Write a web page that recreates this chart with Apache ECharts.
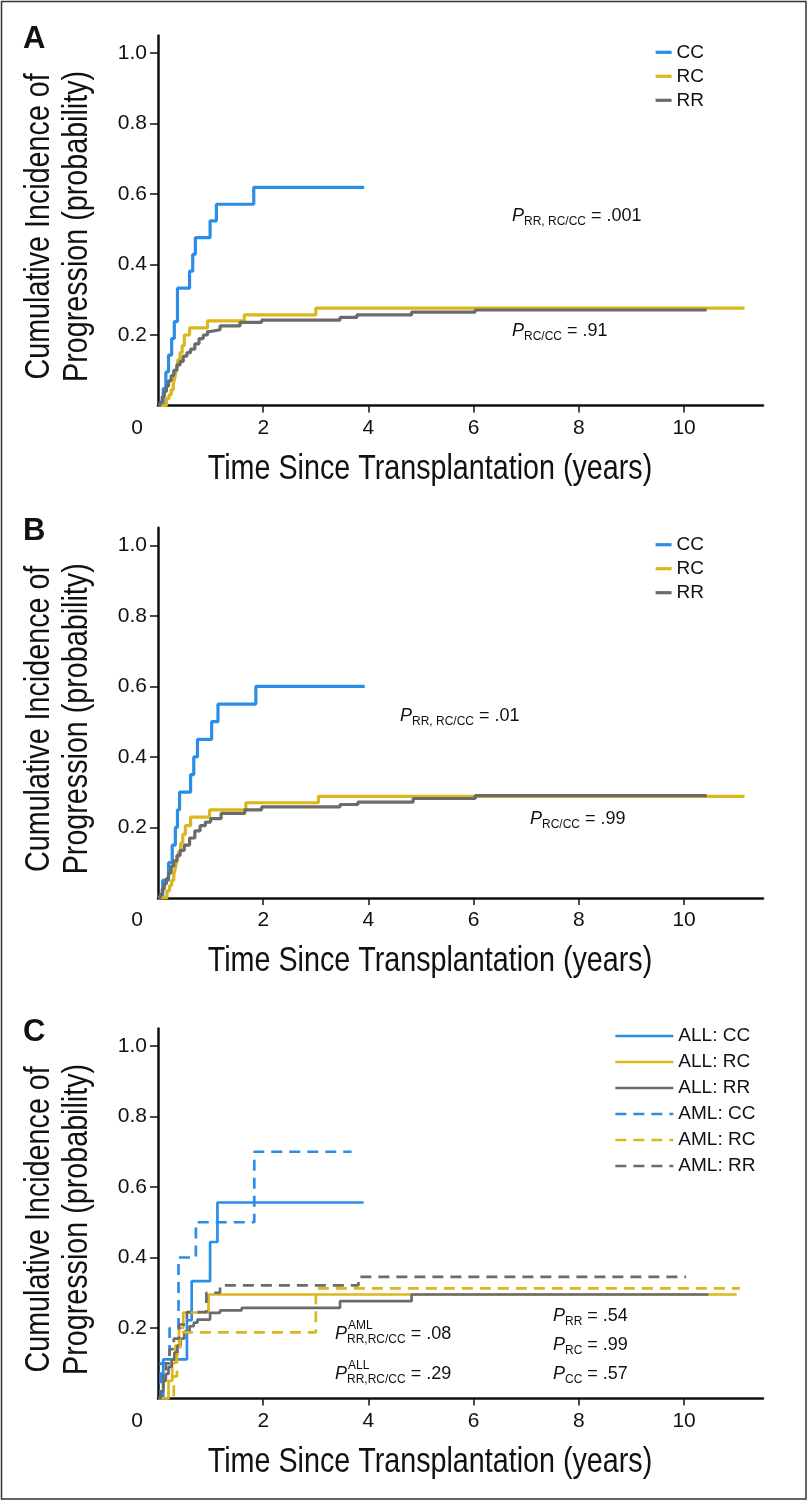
<!DOCTYPE html>
<html>
<head>
<meta charset="utf-8">
<title>Cumulative Incidence of Progression</title>
<script src="https://cdn.jsdelivr.net/npm/echarts@6/dist/echarts.min.js"></script>
<style>
html, body { margin: 0; padding: 0; background: #fff; }
#chart { width: 809px; height: 1501px; }
</style>
</head>
<body>
<div id="chart"></div>
<script>
// panel A  (time in years, cumulative incidence)
var aCCt = [0, 0.10, 0.15, 0.20, 0.26, 0.31, 0.37, 0.60, 0.66, 0.71, 0.99, 1.11, 1.82, 3.92];
var aCCp = [0, 0.048, 0.095, 0.143, 0.190, 0.238, 0.333, 0.381, 0.429, 0.476, 0.524, 0.571, 0.619, 0.619];
var aRCt = [0, 0.16, 0.21, 0.25, 0.29, 0.32, 0.35, 0.38, 0.42, 0.46, 0.50, 0.60, 0.94, 1.64, 3.00, 11.15];
var aRCp = [0, 0.02, 0.03, 0.045, 0.06, 0.08, 0.10, 0.13, 0.15, 0.17, 0.20, 0.22, 0.24, 0.257, 0.276, 0.276];
var aRRt = [0, 0.04, 0.08, 0.12, 0.16, 0.20, 0.25, 0.30, 0.36, 0.42, 0.48, 0.55, 0.62, 0.70, 0.78, 0.86, 0.94, 1.00, 1.18, 1.56, 1.97, 3.46, 3.78, 4.82, 6.03, 10.43];
var aRRp = [0, 0.01, 0.025, 0.04, 0.055, 0.07, 0.085, 0.10, 0.115, 0.125, 0.14, 0.15, 0.16, 0.175, 0.19, 0.20, 0.21, 0.215, 0.226, 0.236, 0.242, 0.25, 0.257, 0.265, 0.271, 0.271];

// panel B
var bCCt = [0, 0.09, 0.20, 0.27, 0.33, 0.37, 0.41, 0.62, 0.68, 0.75, 1.02, 1.14, 1.86, 3.93];
var bCCp = [0, 0.05, 0.10, 0.15, 0.20, 0.25, 0.30, 0.35, 0.40, 0.45, 0.50, 0.55, 0.60, 0.60];
var bRCt = [0, 0.17, 0.22, 0.26, 0.30, 0.33, 0.36, 0.39, 0.43, 0.47, 0.52, 0.62, 0.98, 1.67, 3.05, 11.15];
var bRCp = [0, 0.02, 0.035, 0.05, 0.065, 0.085, 0.105, 0.13, 0.155, 0.18, 0.205, 0.229, 0.25, 0.27, 0.288, 0.288];
var bRRt = [0, 0.04, 0.08, 0.12, 0.16, 0.20, 0.25, 0.30, 0.36, 0.42, 0.50, 0.60, 0.70, 0.80, 0.90, 1.00, 1.20, 1.65, 1.97, 3.46, 3.80, 4.85, 6.03, 10.43];
var bRRp = [0, 0.01, 0.025, 0.04, 0.055, 0.07, 0.09, 0.105, 0.12, 0.135, 0.15, 0.17, 0.19, 0.205, 0.215, 0.225, 0.24, 0.25, 0.258, 0.265, 0.272, 0.282, 0.29, 0.29];

// panel C
var cAllCCt = [0, 0.10, 0.55, 0.64, 0.99, 1.13, 3.91];
var cAllCCp = [0, 0.111, 0.222, 0.333, 0.444, 0.556, 0.556];
var cAllRCt = [0, 0.20, 0.27, 0.33, 0.40, 0.48, 0.96, 11.0];
var cAllRCp = [0, 0.05, 0.10, 0.15, 0.20, 0.244, 0.295, 0.295];
var cAllRRt = [0, 0.05, 0.10, 0.15, 0.20, 0.26, 0.31, 0.37, 0.43, 0.50, 0.60, 0.68, 0.75, 0.99, 1.18, 1.59, 3.46, 4.82, 10.46];
var cAllRRp = [0, 0.02, 0.05, 0.07, 0.09, 0.11, 0.13, 0.15, 0.17, 0.19, 0.205, 0.215, 0.224, 0.243, 0.25, 0.257, 0.276, 0.295, 0.295];
var cAmlCCt = [0, 0.05, 0.22, 0.39, 0.72, 1.83, 3.68];
var cAmlCCp = [0, 0.10, 0.20, 0.40, 0.50, 0.70, 0.70];
var cAmlRCt = [0, 0.30, 0.36, 0.42, 3.00, 11.06];
var cAmlRCp = [0, 0.0625, 0.125, 0.1875, 0.3125, 0.3125];
var cAmlRRt = [0, 0.05, 0.10, 0.15, 0.22, 0.30, 0.40, 0.55, 0.92, 1.18, 3.81, 10.04];
var cAmlRRp = [0, 0.03, 0.07, 0.10, 0.14, 0.17, 0.21, 0.245, 0.30, 0.321, 0.345, 0.345];

var xLabels = [0, 2, 4, 6, 8, 10];
var xTicks = [2, 4, 6, 8, 10];
var yTicks = [0.2, 0.4, 0.6, 0.8, 1.0];
var namesAB = ['CC', 'RC', 'RR'];
var namesC = ['ALL: CC', 'ALL: RC', 'ALL: RR', 'AML: CC', 'AML: RC', 'AML: RR'];
var xTitle = 'Time Since Transplantation (years)';
var yTitle = ['Cumulative Incidence of', 'Progression (probability)'];

var BLUE = '#2a8ee8', YELLOW = '#dcb71c', GREY = '#6b6b6b';
var SANS = '"Liberation Sans", Arial, Helvetica, sans-serif';
var panelTop = [35.4, 527.8, 1028.4];

function stepSeries(name, idx, t, p, color, dashed, width) {
    var data = [];
    t.forEach(function (x, i) { data.push([x, p[i]]); });
    return {
        name: name,
        type: 'line',
        xAxisIndex: idx,
        yAxisIndex: idx,
        step: 'end',
        symbol: 'none',
        silent: true,
        data: data,
        itemStyle: { color: color },
        lineStyle: { color: color, width: width, type: dashed ? [11, 7] : 'solid', cap: 'butt' }
    };
}

function makeX(idx) {
    return {
        type: 'value', gridIndex: idx, min: 0, max: 11.5,
        splitLine: { show: false },
        axisLine: { onZero: false, lineStyle: { color: '#111', width: 2.5 } },
        axisTick: { customValues: xTicks, length: 7, lineStyle: { color: '#111', width: 1.5 } },
        axisLabel: {
            customValues: xLabels, margin: 12, fontSize: 21, fontFamily: SANS, color: '#111',
            formatter: function (v) { return v === 0 ? '{o|0}' : String(v); },
            rich: { o: { padding: [0, 42, 0, 0], fontSize: 21, fontFamily: SANS, color: '#111' } }
        }
    };
}

function makeY(idx) {
    return {
        type: 'value', gridIndex: idx, min: 0, max: 1.05,
        splitLine: { show: false },
        axisLine: { onZero: false, lineStyle: { color: '#111', width: 2.5 } },
        axisTick: { customValues: yTicks, length: 8, lineStyle: { color: '#111', width: 1.5 } },
        axisLabel: {
            customValues: yTicks, margin: 11, fontSize: 21, fontFamily: SANS, color: '#111',
            formatter: function (v) { return v.toFixed(1); }
        }
    };
}

function makeLegend(names, left, top, width, gap, lw) {
    return {
        data: names, orient: 'vertical', left: left, top: top,
        itemWidth: width, itemHeight: 14, itemGap: gap,
        selectedMode: false, padding: 0,
        itemStyle: { color: 'rgba(0,0,0,0)', borderColor: 'rgba(0,0,0,0)', borderWidth: 0, opacity: 0 },
        lineStyle: { width: lw },
        textStyle: { fontSize: 19, lineHeight: 19, fontFamily: SANS, color: '#111' }
    };
}

// condensed axis titles (no narrow font installed, so squeeze horizontally)
function titleText(text, x, y, rot) {
    return {
        type: 'text', x: x, y: y, rotation: rot, scaleX: 0.82, silent: true,
        style: { text: text, fontSize: 35, fontFamily: SANS, fill: '#111', align: 'center', verticalAlign: 'middle' }
    };
}

// P value text: italic P, small subscript, optional superscript
function pLabel(x, y, sub, rest, sup, subDrop) {
    var els = [{
        type: 'text', x: x, y: y, silent: true,
        style: {
            text: '{p|P}{s|' + sub + '}{n| = ' + rest + '}',
            verticalAlign: 'middle',
            rich: {
                p: { fontSize: 18, fontStyle: 'italic', fontFamily: SANS, fill: '#111', lineHeight: 24 },
                s: { fontSize: 12, fontFamily: SANS, fill: '#111', lineHeight: 24 - 2 * (12 - subDrop), verticalAlign: 'bottom' },
                n: { fontSize: 18, fontFamily: SANS, fill: '#111', lineHeight: 24 }
            }
        }
    }];
    if (sup) {
        els.push({
            type: 'text', x: x + 13, y: y - 8, silent: true,
            style: { text: sup, fontSize: 12, fontFamily: SANS, fill: '#111', verticalAlign: 'middle' }
        });
    }
    return els;
}

var chart = echarts.init(document.getElementById('chart'));

var series = [
    stepSeries('CC', 0, aCCt, aCCp, BLUE, false, 3.2),
    stepSeries('RC', 0, aRCt, aRCp, YELLOW, false, 3.2),
    stepSeries('RR', 0, aRRt, aRRp, GREY, false, 3.2),
    stepSeries('CC', 1, bCCt, bCCp, BLUE, false, 3.2),
    stepSeries('RC', 1, bRCt, bRCp, YELLOW, false, 3.2),
    stepSeries('RR', 1, bRRt, bRRp, GREY, false, 3.2),
    stepSeries('ALL: CC', 2, cAllCCt, cAllCCp, BLUE, false, 2.7),
    stepSeries('ALL: RC', 2, cAllRCt, cAllRCp, YELLOW, false, 2.7),
    stepSeries('ALL: RR', 2, cAllRRt, cAllRRp, GREY, false, 2.7),
    stepSeries('AML: CC', 2, cAmlCCt, cAmlCCp, BLUE, true, 2.7),
    stepSeries('AML: RC', 2, cAmlRCt, cAmlRCp, YELLOW, true, 2.7),
    stepSeries('AML: RR', 2, cAmlRRt, cAmlRRp, GREY, true, 2.7)
];

var graphics = [
    { type: 'rect', silent: true, shape: { x: 1.5, y: 1.5, width: 804.5, height: 1497.5 },
      style: { fill: 'none', stroke: '#333', lineWidth: 1.5 } }
];
['A', 'B', 'C'].forEach(function (letter, i) {
    var top = panelTop[i];
    graphics.push({
        type: 'text', x: 23, y: top + 4, silent: true,
        style: { text: letter, fontSize: 31, fontWeight: 'bold', fontFamily: SANS, fill: '#111', verticalAlign: 'middle' }
    });
    graphics.push(titleText(xTitle, 430, top + 434, 0));
    graphics.push(titleText(yTitle[0], 39, top + 191, Math.PI / 2));
    graphics.push(titleText(yTitle[1], 77, top + 191, Math.PI / 2));
});
graphics = graphics
    .concat(pLabel(512, 216, 'RR, RC/CC', '.001', null, 5))
    .concat(pLabel(512, 331, 'RC/CC', '.91', null, 5))
    .concat(pLabel(400, 716, 'RR, RC/CC', '.01', null, 5))
    .concat(pLabel(530, 819, 'RC/CC', '.99', null, 5))
    .concat(pLabel(335, 1334, 'RR,RC/CC', '.08', 'AML', 7))
    .concat(pLabel(335, 1374, 'RR,RC/CC', '.29', 'ALL', 7))
    .concat(pLabel(553, 1316, 'RR', '.54', null, 5))
    .concat(pLabel(553, 1345, 'RC', '.99', null, 5))
    .concat(pLabel(553, 1374, 'CC', '.57', null, 5));

var option = {
    animation: false,
    backgroundColor: '#fff',
    grid: panelTop.map(function (top) {
        return { left: 158, top: top, width: 605, height: 370.1 };
    }),
    xAxis: [makeX(0), makeX(1), makeX(2)],
    yAxis: [makeY(0), makeY(1), makeY(2)],
    legend: [
        makeLegend(namesAB, 654, 42.8, 16, 5, 3.2),
        makeLegend(namesAB, 654, 535.2, 16, 5, 3.2),
        makeLegend(namesC, 614, 1026.5, 58, 7, 2.7)
    ],
    graphic: graphics,
    series: series
};

chart.setOption(option);
</script>
</body>
</html>
